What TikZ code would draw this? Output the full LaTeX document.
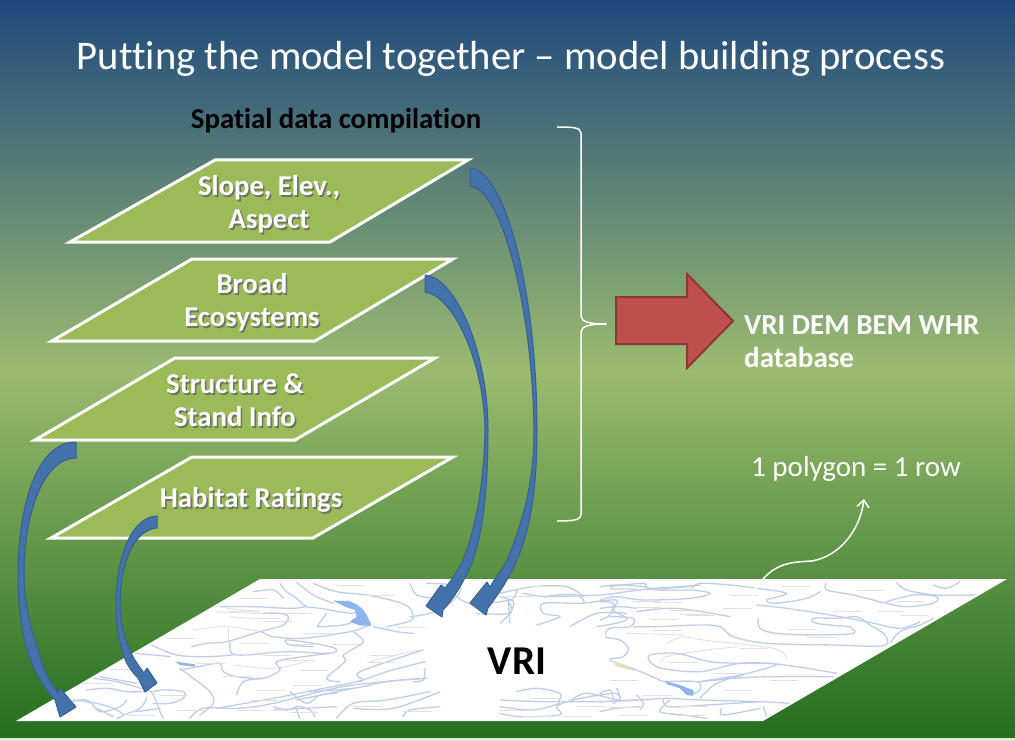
\documentclass[tikz,border=0pt]{standalone}
\usepackage{fontspec}
\setmainfont{Carlito}[Ligatures=CommonOff]
\usetikzlibrary{arrows.meta}
\definecolor{bgtop}{RGB}{31,73,125}
\definecolor{bgmid}{RGB}{155,187,112}
\definecolor{bgbot}{RGB}{35,110,30}
\definecolor{layerfill}{RGB}{155,187,89}
\definecolor{flowfill}{RGB}{68,114,170}
\definecolor{flowedge}{RGB}{56,96,146}
\definecolor{redfill}{RGB}{192,80,77}
\definecolor{rededge}{RGB}{140,56,54}
\definecolor{riverc}{RGB}{190,206,234}
\definecolor{lakec}{RGB}{141,180,236}
\definecolor{greyc}{RGB}{225,225,225}
\definecolor{txtshadow}{RGB}{60,70,45}
\newcommand{\shtxt}[1]{\rlap{\kern1.6pt\raisebox{-1.6pt}{\textcolor{txtshadow!75}{#1}}}#1}
\newcommand{\rvr}[1]{\draw[river] plot[smooth,tension=0.55] coordinates {#1};}
\newcommand{\gry}[1]{\draw[greyline] plot[smooth,tension=0.55] coordinates {#1};}
\tikzset{
  layer/.style={draw=white,line width=3pt,fill=layerfill,line join=miter},
  flow/.style={fill=flowfill,draw=flowedge,line width=1pt,line join=round},
  river/.style={draw=riverc,line width=1.3pt,line cap=round},
  greyline/.style={draw=greyc,line width=0.9pt,line cap=round},
  lake/.style={fill=lakec,draw=none},
  maplabel/.style={draw=gray!24,line width=0.9pt},
  layertext/.style={text=white,font=\bfseries\fontsize{28.7}{33}\selectfont,align=center,inner sep=0pt},
  sidetext/.style={text=white,anchor=west,inner sep=0pt},
}
\begin{document}
\begin{tikzpicture}[x=1pt,y=-1pt]
\useasboundingbox (0,0) rectangle (1015,741);
% background
\shade[top color=bgtop,bottom color=bgmid] (0,0) rectangle (1015,371);
\shade[top color=bgmid,bottom color=bgbot] (0,370) rectangle (1015,738);
\fill[white!85!bgbot] (0,738) rectangle (1015,741);
% map
\fill[white] (16,721) -- (763,721) -- (1007,579) -- (260,579) -- cycle;
\begin{scope}
\clip (20,719) -- (762,719) -- (1000,581) -- (261,581) -- cycle;
\begin{scope}[shift={(20,575)},x=0.3333pt,y=-0.3333pt]
\gry{(625,160)(625,195)}
\gry{(520,165)(620,155)(720,170)}
\gry{(620,100)(720,110)}
\gry{(630,125)(700,130)(780,130)}
\gry{(590,110)(700,115)(850,115)}
\gry{(1050,260)(1130,240)(1200,225)}
\gry{(640,270)(760,280)(860,260)}
\rvr{(780,25)(800,50)(830,70)(860,95)(900,100)(990,115)(1010,110)}
\rvr{(830,22)(880,60)(940,85)}
\rvr{(880,25)(950,50)(1040,60)(1130,80)(1170,100)(1175,135)(1100,155)}
\rvr{(515,215)(560,205)(620,200)(720,170)(790,150)(805,125)(780,115)(730,115)}
\rvr{(630,200)(635,235)(680,240)(800,230)(930,235)(945,220)(880,205)(800,195)(810,210)(880,215)}
\rvr{(725,170)(760,185)(850,190)(990,170)(1050,150)}
\rvr{(1000,140)(970,150)(900,155)(895,150)(920,115)}
\rvr{(1000,170)(1030,195)(1020,210)(970,240)(975,260)(920,310)(960,320)}
\rvr{(480,285)(560,270)(600,265)(610,290)(650,305)(730,310)(780,285)(770,260)(850,245)(930,235)}
\rvr{(395,210)(470,240)(560,245)(640,240)}
\rvr{(340,235)(400,240)(450,245)}
\rvr{(220,310)(290,320)(380,345)(400,360)(420,410)(430,430)}
\rvr{(480,280)(520,310)(570,350)(580,385)(540,420)}
\rvr{(650,360)(670,320)(730,310)}
\rvr{(400,350)(430,345)(490,350)(490,370)(450,385)(400,385)}
\rvr{(130,385)(200,375)(240,410)(300,395)(320,375)}
\rvr{(230,400)(280,425)}
\rvr{(510,430)(550,400)(660,400)(760,385)(900,350)(1000,330)(1200,310)}
\rvr{(590,400)(760,370)(860,350)(1010,320)(1100,290)(1215,260)}
\rvr{(950,430)(1000,385)(1100,375)(1230,350)}
\rvr{(840,430)(830,395)(870,405)(885,425)}
\rvr{(810,350)(860,385)(900,360)(950,355)}
\rvr{(1150,425)(1170,405)(1260,395)}
\rvr{(1010,320)(1030,315)(1020,290)(1210,225)}
\rvr{(760,395)(800,405)(830,395)}
\rvr{(1180,320)(1210,315)(1215,280)}
\rvr{(870,350)(1000,340)(1100,320)(1220,310)}
\rvr{(830,375)(1000,340)}
\rvr{(1000,400)(1120,400)(1260,350)}
\rvr{(760,405)(950,395)}
\rvr{(600,95)(700,95)(810,100)(860,95)}
\rvr{(160,375)(230,385)(280,400)(310,420)(290,430)}
\rvr{(240,305)(350,325)}
\rvr{(200,345)(260,340)(320,350)(370,350)}
\rvr{(310,420)(360,400)(380,370)}
\rvr{(350,410)(420,400)}
\rvr{(1060,155)(1130,170)(1180,175)}
\rvr{(1170,25)(1190,60)(1250,70)}
\rvr{(700,50)(760,45)(790,70)}
\foreach \x/\y in {660/70,950/30,1040/60,630/110,790/115,730/138,850/175,660/205,810/208,935/207,730/240,1050/240,1040/262,800/255,840/285,1130/158,440/190,530/265,610/305,820/330,710/345,690/375,420/360,270/282,190/325,470/405,650/405,810/412,1000/395,1150/410,320/420}{
  \draw[maplabel] (\x,\y) -- ++(85,0);
}
\fill[lake] (465,260) -- (525,268) -- (525,275) -- (480,270) -- cycle;
\fill[lake] (940,77) -- (985,78) .. controls (1010,85) and (1030,100) .. (1040,120) -- (1055,152) -- (1020,152) -- (990,140) -- (1010,125) -- (1005,105) -- (975,95) -- cycle;
\end{scope}
\begin{scope}[shift={(500,480)},x=0.3333pt,y=-0.3333pt]
\rvr{(0,350)(40,365)(30,400)(0,430)}
\rvr{(70,340)(130,350)(170,345)(230,345)(250,360)(240,370)(130,370)(130,400)(180,410)(110,435)}
\rvr{(130,350)(300,345)(420,330)(570,320)}
\rvr{(250,370)(350,360)(340,390)(380,420)(290,440)}
\rvr{(210,440)(290,400)(380,400)}
\rvr{(0,340)(100,320)(200,320)(250,350)}
\rvr{(330,320)(430,310)(450,325)(600,315)}
\rvr{(0,700)(60,710)(180,705)(170,680)(220,660)(340,640)(355,660)(260,640)(215,660)}
\rvr{(50,635)(110,625)(180,640)(175,665)}
\rvr{(0,660)(120,665)(300,665)(410,660)}
\rvr{(0,680)(100,690)(180,670)}
\foreach \x/\y in {100/320,330/325,460/450,395/365,510/392,560/405,10/350,100/655,230/680,70/708,190/708,0/690}{
  \draw[maplabel] (\x,\y) -- ++(85,0);
}
\end{scope}
\begin{scope}[shift={(410,560)},x=0.3333pt,y=-0.3333pt]
\rvr{(50,70)(150,80)(120,130)(60,160)(0,170)}
\rvr{(130,100)(180,130)(300,120)(320,90)}
\rvr{(200,160)(300,160)(295,125)(300,190)}
\end{scope}
\begin{scope}[shift={(600,575)},x=0.3333pt,y=-0.3333pt]
\gry{(200,205)(250,185)(310,195)(520,220)(560,250)}
\gry{(185,260)(200,245)(320,225)(420,215)}
\gry{(80,175)(250,180)}
\rvr{(0,35)(50,30)(130,35)(170,45)(270,45)(330,55)(270,70)(130,75)(50,65)(0,75)}
\rvr{(275,40)(300,25)(390,30)(470,40)(560,55)(500,75)(530,85)(620,70)(660,50)}
\rvr{(0,80)(40,85)(30,120)(0,135)}
\rvr{(110,110)(230,100)(390,125)}
\rvr{(30,125)(100,130)(90,155)(30,160)(15,185)(60,195)(85,220)(70,245)(30,255)(110,285)(190,320)}
\rvr{(100,155)(170,155)(300,150)(360,155)(400,185)(500,205)(700,210)(850,212)(855,180)(810,150)(770,125)(720,130)(640,130)(650,145)(750,155)}
\rvr{(470,90)(560,100)(690,120)(800,140)(900,160)(960,140)}
\rvr{(475,130)(480,160)(530,175)(650,180)(760,175)(750,155)}
\rvr{(680,25)(680,45)(760,60)(860,85)(920,95)(1000,85)(1010,65)(940,60)(860,80)}
\rvr{(890,22)(920,45)(1010,60)(1130,60)}
\rvr{(1000,30)(1040,40)(1080,20)}
\rvr{(870,205)(900,170)(960,150)(1000,130)}
\rvr{(150,260)(150,240)(230,235)(330,260)(420,265)(530,268)(420,300)(300,320)(400,310)(520,305)(700,305)}
\rvr{(150,260)(185,280)(300,290)(420,265)(540,268)(710,295)}
\rvr{(190,320)(290,320)(300,345)(270,360)}
\rvr{(300,370)(350,325)(430,300)}
\rvr{(0,380)(120,375)(200,370)(300,375)(480,380)(570,385)}
\rvr{(190,370)(205,395)(320,390)(480,380)}
\rvr{(210,375)(180,410)(250,420)(320,430)}
\rvr{(490,395)(500,425)}
\rvr{(365,400)(370,420)(480,400)}
\rvr{(0,410)(50,400)(120,395)}
\rvr{(50,340)(60,370)(40,385)}
\rvr{(110,360)(130,385)(120,405)}
\rvr{(0,100)(60,95)(110,100)}
\rvr{(0,355)(30,345)(40,370)}
\foreach \x/\y in {30/42,190/42,390/60,545/33,770/45,890/78,160/82,370/100,100/97,150/132,240/118,700/108,830/108,900/122,160/165,560/162,620/187,420/220,210/262,340/295,30/315,510/317,370/345,130/362,240/395,30/397,230/420,60/420}{
  \draw[maplabel] (\x,\y) -- ++(85,0);
}
\fill[lake] (195,318) -- (240,330) -- (260,338) -- (280,345) -- (280,362) -- (260,360) -- (240,340) -- (200,327) -- cycle;
\fill[yellow!35!gray!40] (45,260) -- (80,270) -- (110,290) -- (70,280) -- (45,272) -- cycle;
\end{scope}
\end{scope}
\fill[white] (428,627) rectangle (605,684);
\node[inner sep=0pt,font=\bfseries\fontsize{41}{46}\selectfont] (vri) at (517,661) {VRI};
% title and headings
\node[text=white,inner sep=0pt,font=\fontsize{40.6}{46}\selectfont] (title) at (511,59) {Putting the model together – model building process};
\node[inner sep=0pt,font=\bfseries\fontsize{28.8}{32}\selectfont] (head) at (336,121) {Spatial data compilation};
% layers
\draw[layer] (215,160) -- (468,160) -- (330,242) -- (70,242) -- cycle;
\draw[layer] (192,259) -- (453,259) -- (315,341) -- (52,341) -- cycle;
\draw[layer] (175,358) -- (435,358) -- (295,440) -- (35,440) -- cycle;
\draw[layer] (192,457) -- (453,457) -- (313,538) -- (51,538) -- cycle;
\node[layertext] (slope) at (269,205) {\shtxt{Slope, Elev.,}\\\shtxt{Aspect}};
\node[layertext] (broad) at (252,303) {\shtxt{Broad}\\\shtxt{Ecosystems}};
\node[layertext] (struct) at (235,401) {\shtxt{Structure \&}\\\shtxt{Stand Info}};
\node[layertext] (habitat) at (251,501) {\shtxt{Habitat Ratings}};
% flow arrows
\draw[flow] (470,168) .. controls (505,170) and (537,290) .. (537,430) .. controls (537,490) and (530,530) .. (517,560) .. controls (508,580) and (498,595) .. (488,608) -- (486,615) -- (470,603) -- (487,582) -- (490,587) .. controls (495,578) and (502,570) .. (507,560) .. controls (524,520) and (534,480) .. (534,430) .. controls (532,300) and (500,188) .. (470,186) -- cycle;
\draw[flow] (425,275) .. controls (455,277) and (488,350) .. (488,430) .. controls (488,490) and (483,530) .. (473,560) .. controls (465,580) and (455,597) .. (443,610) -- (442,617) -- (426,606) -- (441,585) -- (445,588) .. controls (452,580) and (458,570) .. (463,560) .. controls (477,525) and (484,480) .. (485,430) .. controls (484,360) and (452,295) .. (425,292) -- cycle;
\draw[flow] (76,442) .. controls (35,442) and (18,510) .. (18,575) .. controls (18,610) and (22,630) .. (27,650) .. controls (33,670) and (45,690) .. (55,700) -- (60,717) -- (76,707) -- (60,688) -- (58,693) .. controls (48,680) and (42,665) .. (38,650) .. controls (30,625) and (24,600) .. (24,575) .. controls (24,510) and (45,458) .. (76,458) -- cycle;
\draw[flow] (157,516) .. controls (130,517) and (116,560) .. (116,605) .. controls (116,622) and (118,637) .. (122,650) .. controls (125,662) and (130,670) .. (138,678) -- (145,692) -- (157,683) -- (147,668) -- (144,673) .. controls (138,665) and (133,658) .. (130,650) .. controls (123,635) and (120,620) .. (120,605) .. controls (120,565) and (133,530) .. (157,528) -- cycle;
% brace
\coordinate (bracetop) at (557,127);
\coordinate (bracebot) at (557,521);
\coordinate (bracetip) at (606,324);
\draw[white,line width=1.5pt,line join=round] (bracetop) .. controls (570,127) and (581,127) .. (581,133) -- (581,316) .. controls (581,322) and (590,324) .. (bracetip) .. controls (590,324) and (581,326) .. (581,332) -- (581,514) .. controls (581,521) and (570,521) .. (bracebot);
% red arrow
\draw[fill=redfill,draw=rededge,line width=2pt,line join=miter] (616,297) -- (687,297) -- (687,274) -- (733,321) -- (687,368) -- (687,344) -- (616,344) -- cycle;
% right texts
\node[sidetext,font=\bfseries\fontsize{29}{33}\selectfont,align=left,anchor=north west] (db) at (744,315) {VRI DEM BEM WHR\\database};
\node[text=white,inner sep=0pt,font=\fontsize{29}{33}\selectfont] (row) at (856,469) {1 polygon = 1 row};
% link
\coordinate (linkstart) at (743,623);
\coordinate (mapedge) at (763,579);
\coordinate (rowtip) at (864,499);
\draw[white,line width=1.5pt,-{Straight Barb[length=7pt,width=12pt]}] (linkstart) .. controls (748,605) and (755,587) .. (mapedge) .. controls (778,562) and (795,562) .. (812,561) .. controls (840,556) and (860,530) .. (rowtip);
\end{tikzpicture}
\end{document}
